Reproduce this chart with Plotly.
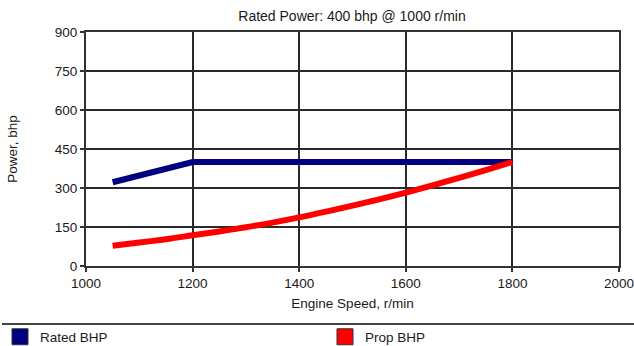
import plotly.graph_objects as go

# Engine speed (r/min) and power (bhp) curves
rated_speed = [1050, 1100, 1150, 1200, 1300, 1400, 1500, 1600, 1700, 1800]
rated_bhp = [322, 349, 375, 400, 400, 400, 400, 400, 400, 400]

prop_speed = [1050, 1100, 1150, 1200, 1250, 1300, 1350, 1400, 1450, 1500,
              1550, 1600, 1650, 1700, 1750, 1800]
prop_bhp = [78, 90, 103, 118, 133, 149, 167, 187, 209, 232,
            256, 282, 310, 339, 369, 400]

x_ticks = [1000, 1200, 1400, 1600, 1800, 2000]
y_ticks = [0, 150, 300, 450, 600, 750, 900]

title_text = "Rated Power: 400 bhp @ 1000 r/min"
x_title = "Engine Speed, r/min"
y_title = "Power, bhp"

navy = "#000080"
red = "#ff0000"
ink = "#1a1a1a"
grid = "#2a2a2a"
font = "Liberation Sans, Arial, sans-serif"
fsize = 13.5

W, H = 634, 346
ML, MR, MT, MB = 86, 15, 32, 80
PW, PH = W - ML - MR, H - MT - MB

fig = go.Figure()

fig.add_trace(go.Scatter(
    x=rated_speed, y=rated_bhp, mode="lines",
    line=dict(color=navy, width=6), showlegend=False, hoverinfo="skip",
))
fig.add_trace(go.Scatter(
    x=prop_speed, y=prop_bhp, mode="lines", line_shape="spline",
    line=dict(color=red, width=6), showlegend=False, hoverinfo="skip",
))

# Square legend keys, one legend box per series
for name, color, leg in [("Rated BHP", navy, "legend"), ("Prop BHP", red, "legend2")]:
    fig.add_trace(go.Scatter(
        x=[None], y=[None], mode="markers", name=name, legend=leg,
        marker=dict(symbol="square", size=16, color=color,
                    line=dict(color="#333333", width=1)),
    ))

axis_common = dict(
    showgrid=True, gridcolor=grid, gridwidth=1.5,
    showline=True, linecolor="#333333", linewidth=2, mirror=True,
    ticks="outside", ticklen=4, tickcolor="#333333", tickwidth=1.5,
    zeroline=False, tickfont=dict(family=font, size=fsize, color=ink),
    ticklabeloverflow="allow",
)

fig.update_xaxes(
    range=[1000, 2000], tickvals=x_ticks,
    title=dict(text=x_title, font=dict(family=font, size=fsize, color=ink), standoff=8),
    **axis_common,
)
fig.update_yaxes(
    range=[0, 900], tickvals=y_ticks,
    title=dict(text=y_title, font=dict(family=font, size=fsize, color=ink), standoff=34),
    **axis_common,
)

legend_common = dict(
    orientation="h", xref="container", yref="container",
    xanchor="left", yanchor="middle", y=(H - 337) / H,
    font=dict(family=font, size=fsize, color=ink),
    bgcolor="rgba(0,0,0,0)", borderwidth=0,
)

fig.update_layout(
    width=W, height=H,
    margin=dict(l=ML, r=MR, t=MT, b=MB, autoexpand=False),
    paper_bgcolor="white", plot_bgcolor="white",
    title=dict(text=title_text, x=352 / W, xanchor="center", y=(H - 16) / H, yanchor="middle",
               font=dict(family=font, size=14, color=ink)),
    font=dict(family=font, size=fsize, color=ink),
    legend=dict(x=-10 / W, **legend_common),
    legend2=dict(x=325 / W, **legend_common),
    shapes=[dict(
        type="line", xref="paper", yref="paper",
        x0=(2 - ML) / PW, x1=(W - ML) / PW,
        y0=-(324 - (MT + PH)) / PH, y1=-(324 - (MT + PH)) / PH,
        line=dict(color="#444444", width=2),
    )],
)

fig.write_html("out.html")
